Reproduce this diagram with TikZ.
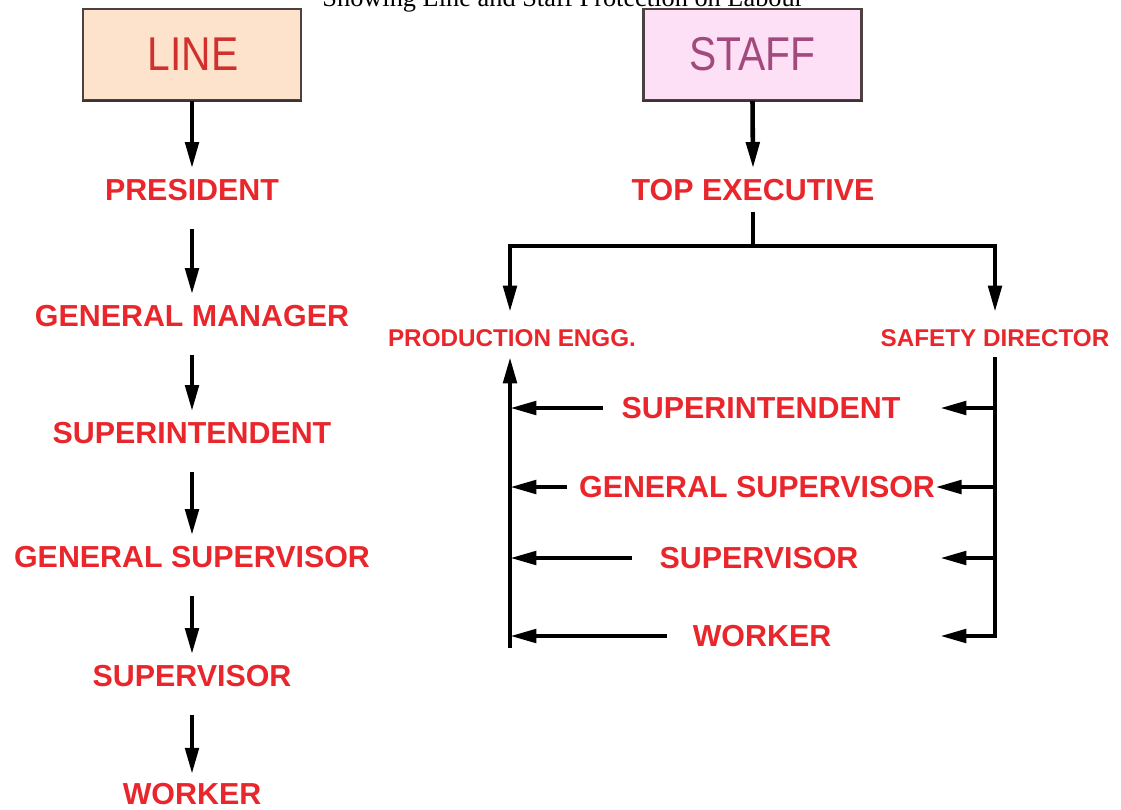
\documentclass[tikz,border=0pt]{standalone}
\usepackage{fontspec}
\setmainfont{Liberation Serif}
\setsansfont{Liberation Sans}
\usetikzlibrary{arrows.meta}
\definecolor{lblred}{HTML}{E8262B}
\definecolor{linered}{HTML}{D0312F}
\definecolor{staffpurple}{HTML}{A24A7E}
\definecolor{linefill}{HTML}{FDE3CB}
\definecolor{stafffill}{HTML}{FDE0F6}
\definecolor{boxedge}{HTML}{4E4040}
\tikzset{
  headbox/.style={draw=boxedge, line width=1.3pt, minimum width=124.2pt, minimum height=51.6pt, inner sep=0pt},
  headtext/.style={font=\sffamily\fontsize{27}{27}\selectfont, xscale=0.86},
  lbl/.style={text=lblred, font=\sffamily\bfseries\fontsize{17.3}{17.3}\selectfont, inner xsep=0pt, inner ysep=6pt},
  small/.style={text=lblred, font=\sffamily\bfseries\fontsize{13.8}{13.8}\selectfont, inner xsep=0pt, inner ysep=5pt},
  conn/.style={line width=2.6pt, -{Triangle[length=15pt, width=7.5pt]}},
  plain/.style={line width=2.6pt},
}
\begin{document}
\begin{tikzpicture}[x=0.02cm, y=-0.02cm]
\useasboundingbox (0,0) rectangle (1121,809);
% title (cut at the top, as in the reference)
\node[font=\fontsize{15}{15}\selectfont, anchor=base] (title) at (563,6) {Showing Line and Staff Protection on Labour};
% head boxes
\node[headbox, fill=linefill] (line) at (192,54.5) {};
\draw[boxedge!80!black, line width=1.6pt] (line.south west) -- (line.south east);
\node[headtext, text=linered] (linet) at (193,54.5) {LINE};
\node[headbox, fill=stafffill] (staff) at (752.5,54.5) {};
\draw[boxedge!80!black, line width=1.6pt] (staff.south west) -- (staff.south east);
\node[headtext, text=staffpurple] (stafft) at (752.5,54.5) {STAFF};
% left column
\node[lbl] (pres) at (192,190) {PRESIDENT};
\node[lbl] (gm) at (192,316) {GENERAL MANAGER};
\node[lbl] (si) at (192,433) {SUPERINTENDENT};
\node[lbl] (gs) at (192,557) {GENERAL SUPERVISOR};
\node[lbl] (sv) at (192,676) {SUPERVISOR};
\node[lbl, inner ysep=3pt] (wk) at (192,794) {WORKER};
\draw[conn] (line.south) -- (pres.north);
\draw[conn, shorten <=10pt] (pres.south) -- (gm.north);
\draw[conn, shorten <=10pt] (gm.south) -- (si.north);
\draw[conn, shorten <=10pt] (si.south) -- (gs.north);
\draw[conn, shorten <=10pt] (gs.south) -- (sv.north);
\draw[conn, shorten <=10pt, shorten >=2pt] (sv.south) -- (wk.north);
% right column
\node[lbl] (top) at (753,190) {TOP EXECUTIVE};
\draw[conn] (staff.south) -- (top.north);
\coordinate (tj) at (753,246);
\coordinate (lj) at (510,246);
\coordinate (rj) at (995,246);
\node[small] (pe) at (512,338) {PRODUCTION ENGG.};
\node[small] (sd) at (995,338) {SAFETY DIRECTOR};
\coordinate (ptip) at (510,312);
\coordinate (stip) at (995,312);
\draw[plain] (top.south) -- (tj);
\draw[conn, line join=miter] (tj) -- (lj) -- (ptip);
\draw[conn, line join=miter] (tj) -- (rj) -- (stip);
% rows
\node[lbl] (rsi) at (761,408) {SUPERINTENDENT};
\node[lbl] (rgs) at (757,487) {GENERAL SUPERVISOR};
\node[lbl] (rsv) at (759,558) {SUPERVISOR};
\node[lbl] (rwk) at (762,636) {WORKER};
\coordinate (lbot) at (510,648);
\coordinate (ltop) at (510,357);
\coordinate (rtop) at (995,357);
\coordinate (r1) at (995,408);
\coordinate (r2) at (995,487);
\coordinate (r3) at (995,558);
\coordinate (r4) at (995,636);
\coordinate (l1) at (510,408);
\coordinate (l2) at (510,487);
\coordinate (l3) at (510,558);
\coordinate (l4) at (510,636);
\draw[conn] (lbot) -- (ltop);
\draw[plain, line join=miter] (rtop) -- (r4) -- (988,636);
\draw[conn] (r1) -- (940,408);
\draw[conn] (r2) -- (rgs.east);
\draw[conn] (r3) -- (940,558);
\draw[conn] (r4) -- (940,636);
\draw[conn] (603,408) -- (l1);
\draw[conn] (567,487) -- (l2);
\draw[conn] (632,558) -- (l3);
\draw[conn] (667,636) -- (l4);
\end{tikzpicture}
\end{document}
